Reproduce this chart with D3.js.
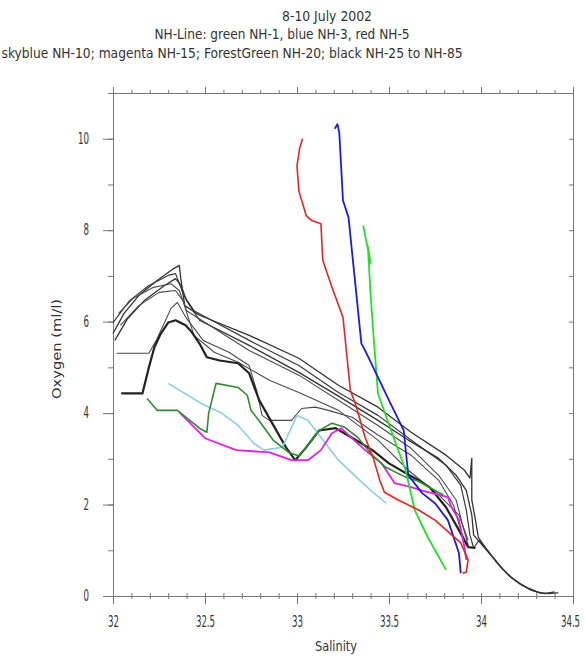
<!DOCTYPE html>
<html>
<head>
<meta charset="utf-8">
<script src="https://cdn.jsdelivr.net/npm/d3@7"></script>
<style>
  body { margin: 0; background: #fff; }
  text { font-family: "Liberation Sans Narrow", "DejaVu Sans Condensed", "DejaVu Sans", sans-serif; fill: #333; }
</style>
</head>
<body>
<div id="chart"></div>
<script>
// profiles, [salinity, oxygen ml/l]
var nh1 = [[33.36,8.10],[33.40,7.28],[33.385,7.65],[33.40,6.60],[33.415,5.74],[33.44,4.43],[33.53,3.41],[33.59,2.75],[33.64,1.88],[33.71,1.29],[33.81,0.57]];
var nh3 = [[33.205,10.22],[33.22,10.32],[33.23,10.12],[33.25,8.65],[33.28,8.28],[33.35,5.52],[33.37,5.37],[33.50,4.28],[33.58,3.62],[33.605,2.64],[33.68,2.25],[33.75,2.03],[33.82,1.66],[33.88,0.94],[33.89,0.50]];
var nh5 = [[33.03,10.00],[33.015,9.80],[33.00,9.41],[33.01,8.86],[33.05,8.32],[33.08,8.21],[33.13,8.14],[33.14,7.34],[33.19,6.75],[33.25,6.09],[33.29,4.50],[33.32,4.17],[33.37,3.47],[33.415,3.01],[33.45,2.53],[33.475,2.27],[33.55,2.10],[33.66,1.88],[33.75,1.66],[33.89,1.16],[33.93,0.79],[33.92,0.52],[33.90,0.50]];
var nh10 = [[32.30,4.65],[32.48,4.21],[32.59,4.00],[32.68,3.73],[32.765,3.34],[32.82,3.19],[32.92,3.25],[33.00,3.95],[33.06,3.84],[33.225,2.97],[33.40,2.31],[33.485,2.03]];
var nh15 = [[32.36,4.02],[32.50,3.45],[32.67,3.19],[32.85,3.14],[32.97,2.97],[33.06,2.97],[33.13,3.19],[33.19,3.56],[33.24,3.67],[33.31,3.41],[33.37,3.19],[33.46,2.90],[33.53,2.47],[33.62,2.38],[33.675,2.31],[33.82,2.16],[33.84,1.94],[33.88,1.66],[33.91,1.07],[33.92,0.79]];
var nh20 = [[32.185,4.32],[32.24,4.06],[32.35,4.06],[32.47,3.67],[32.51,3.58],[32.52,4.00],[32.56,4.65],[32.68,4.56],[32.73,4.39],[32.75,4.06],[32.80,3.80],[32.87,3.41],[32.955,3.14],[33.01,3.06],[33.06,3.30],[33.12,3.62],[33.19,3.78],[33.26,3.69],[33.33,3.47],[33.40,3.12],[33.48,2.82],[33.59,2.60],[33.66,2.51],[33.795,2.21]];
var nh25 = [[32.045,4.43],[32.16,4.43],[32.195,5.00],[32.225,5.44],[32.26,5.74],[32.30,5.98],[32.34,6.03],[32.395,5.92],[32.43,5.76],[32.47,5.52],[32.51,5.22],[32.58,5.15],[32.68,5.09],[32.74,4.87],[32.795,4.28],[32.865,3.78],[32.94,3.25],[32.99,2.97],[33.05,3.25],[33.12,3.62],[33.21,3.67],[33.32,3.41],[33.41,3.19],[33.50,2.90],[33.59,2.69],[33.66,2.53],[33.72,2.38],[33.81,1.94],[33.88,1.44],[33.93,1.07],[33.97,1.05]];
var nh35 = [[32.02,5.31],[32.195,5.31],[32.235,5.59],[32.28,5.98],[32.315,6.29],[32.35,6.42],[32.40,6.07],[32.49,5.59],[32.63,5.33],[32.74,5.04],[32.78,4.50],[32.81,3.95],[32.85,3.84],[32.97,3.84],[33.025,4.10],[33.10,4.13],[33.17,4.06],[33.30,3.91],[33.44,3.52],[33.62,3.08],[33.77,2.53],[33.85,1.99],[33.89,1.44],[33.92,1.11]];
var nh45 = [[32.04,5.92],[32.14,6.35],[32.25,6.64],[32.34,6.68],[32.38,6.46],[32.44,5.70],[32.55,5.33],[32.68,5.11],[32.85,4.72],[33.01,4.45],[33.225,4.06],[33.44,3.41],[33.605,2.75],[33.77,2.21],[33.88,1.77],[33.93,1.22]];
var nh55 = [[32.03,6.18],[32.11,6.51],[32.22,6.75],[32.315,6.83],[32.36,6.68],[32.40,6.24],[32.74,5.37],[33.01,4.83],[33.225,4.28],[33.44,3.73],[33.62,3.23],[33.77,2.64],[33.865,2.10],[33.90,1.55],[33.93,1.11]];
var nh65 = [[32.01,5.59],[32.08,6.07],[32.17,6.46],[32.28,6.79],[32.34,6.94],[32.37,6.79],[32.40,6.46],[32.47,6.03],[32.74,5.48],[33.01,4.89],[33.225,4.37],[33.44,3.84],[33.605,3.41],[33.77,3.01],[33.865,2.64],[33.92,2.31],[33.95,1.77],[33.96,1.33],[34.01,1.10],[34.06,0.86],[34.11,0.62],[34.16,0.42],[34.21,0.28],[34.26,0.16],[34.31,0.08],[34.35,0.05],[34.42,0.07]];
var nh75 = [[32.00,5.98],[32.09,6.46],[32.195,6.79],[32.30,7.01],[32.34,7.05],[32.385,6.57],[32.44,6.24],[32.74,5.59],[33.01,5.04],[33.225,4.45],[33.44,3.95],[33.62,3.41],[33.81,2.86],[33.89,2.42],[33.92,1.88],[33.94,1.33],[33.96,1.05],[33.99,1.22],[34.04,0.98],[34.08,0.76],[34.13,0.54],[34.17,0.38],[34.22,0.24],[34.27,0.13],[34.33,0.06],[34.38,0.05]];
var nh85 = [[32.00,5.74],[32.06,6.18],[32.14,6.57],[32.24,6.90],[32.33,7.16],[32.36,7.23],[32.37,6.90],[32.39,6.35],[32.47,6.14],[32.74,5.70],[33.01,5.20],[33.225,4.61],[33.44,4.13],[33.62,3.58],[33.81,3.08],[33.91,2.75],[33.94,2.58],[33.95,3.01],[33.95,2.10],[33.97,1.66],[33.985,1.29],[34.03,1.02],[34.077,0.79],[34.12,0.58],[34.164,0.41],[34.21,0.27],[34.256,0.17],[34.30,0.10],[34.326,0.07],[34.36,0.06],[34.40,0.09]];

var xTicks = [32, 32.5, 33, 33.5, 34, 34.5];
var xTickLabels = ['32', '32.5', '33', '33.5', '34', '34.5'];
var yTicks = [0, 2, 4, 6, 8, 10];
var yTickLabels = ['0', '2', '4', '6', '8', '10'];

var titleLines = ['8-10 July 2002',
	'NH-Line: green NH-1, blue NH-3, red NH-5',
	'skyblue NH-10; magenta NH-15; ForestGreen NH-20; black NH-25 to NH-85'];

// drawing order and looks
var series = [
	{data: nh85, color: '#333', w: 1.3},
	{data: nh75, color: '#3a3a3a', w: 1.2},
	{data: nh65, color: '#333', w: 1.3},
	{data: nh55, color: '#4a4a4a', w: 1.1},
	{data: nh45, color: '#4a4a4a', w: 1.1},
	{data: nh35, color: '#4a4a4a', w: 1.1},
	{data: nh25, color: '#222', w: 2.2},
	{data: nh10, color: '#8ccfe8', w: 1.6},
	{data: nh15, color: '#e020e0', w: 1.8},
	{data: nh20, color: '#2e8b2e', w: 1.6},
	{data: nh1, color: '#22e022', w: 1.8},
	{data: nh3, color: '#1a1ae6', w: 1.8},
	{data: nh5, color: '#f02020', w: 1.6}
];

var width = 585, height = 658;
var svg = d3.select('#chart').append('svg')
	.attr('width', width)
	.attr('height', height);

var x = d3.scaleLinear().domain([32, 34.5]).range([113, 573]);
var y = d3.scaleLinear().domain([0, 11]).range([596, 93]);

var xMinor = d3.range(0, 26).map(function(i){ return 32 + i / 10; });
var yMinor = d3.range(0, 12);

var squeeze = 0.64; // narrow plot font

// title
var titleY = [21, 39, 58], titleX = [327, 282, 232], titleW = [90, 255, 461];
titleLines.forEach(function(t, i){
	svg.append('text')
		.attr('x', titleX[i] - titleW[i] / 2)
		.attr('y', titleY[i])
		.attr('textLength', titleW[i])
		.attr('lengthAdjust', 'spacingAndGlyphs')
		.style('font-size', '14px')
		.text(t);
});

// frame + ticks
var axisColor = '#777';
function styleAxis(g){
	g.select('.domain').attr('stroke', axisColor);
	g.selectAll('.tick line').attr('stroke', axisColor);
}

svg.append('g').attr('transform', 'translate(0,596)')
	.call(d3.axisBottom(x).tickValues(xMinor).tickSize(3).tickSizeOuter(0).tickFormat(''))
	.call(styleAxis)
	.selectAll('.tick line').attr('y1', -3);
var bottom = svg.append('g').attr('transform', 'translate(0,596)')
	.call(d3.axisBottom(x).tickValues(xTicks).tickSize(8).tickSizeOuter(0)
		.tickFormat(function(d, i){ return xTickLabels[i]; }))
	.call(styleAxis);
bottom.selectAll('text')
	.attr('x', function(d){ return d === 34.5 ? -3 / squeeze : 0; })
	.attr('y', 20)
	.attr('transform', 'scale(' + squeeze + ',1)')
	.style('font-size', '15px')
	.style('font-family', null).attr('fill', '#333');

svg.append('g').attr('transform', 'translate(0,93)')
	.call(d3.axisTop(x).tickValues(xMinor).tickSize(3).tickSizeOuter(0).tickFormat(''))
	.call(styleAxis);
svg.append('g').attr('transform', 'translate(0,93)')
	.call(d3.axisTop(x).tickValues(xTicks).tickSize(6).tickSizeOuter(0).tickFormat(''))
	.call(styleAxis);

svg.append('g').attr('transform', 'translate(113,0)')
	.call(d3.axisLeft(y).tickValues(yMinor).tickSize(5).tickSizeOuter(0).tickFormat(''))
	.call(styleAxis);
var left = svg.append('g').attr('transform', 'translate(113,0)')
	.call(d3.axisLeft(y).tickValues(yTicks).tickSize(10).tickSizeOuter(0)
		.tickFormat(function(d, i){ return yTickLabels[i]; }))
	.call(styleAxis);
left.selectAll('text')
	.attr('x', -24 / squeeze)
	.attr('transform', 'scale(' + squeeze + ',1)')
	.style('font-size', '15px')
	.style('font-family', null).attr('fill', '#333');

svg.append('g').attr('transform', 'translate(573,0)')
	.call(d3.axisRight(y).tickValues(yMinor).tickSize(-4).tickSizeOuter(0).tickFormat(''))
	.call(styleAxis);

// axis titles
svg.append('text')
	.attr('x', 315).attr('y', 651)
	.attr('textLength', 42).attr('lengthAdjust', 'spacingAndGlyphs')
	.style('font-size', '14px')
	.text('Salinity');
svg.append('text')
	.attr('transform', 'translate(61,399) rotate(-90)')
	.attr('textLength', 100).attr('lengthAdjust', 'spacingAndGlyphs')
	.style('font-size', '13px')
	.text('Oxygen (ml/l)');

// profiles
var line = d3.line()
	.x(function(d){ return x(d[0]); })
	.y(function(d){ return y(d[1]); });

svg.append('g').selectAll('path').data(series)
	.enter().append('path')
	.attr('d', function(d){ return line(d.data); })
	.attr('fill', 'none')
	.attr('stroke', function(d){ return d.color; })
	.attr('stroke-width', function(d){ return d.w; })
	.attr('stroke-linejoin', 'round');
</script>
</body>
</html>
